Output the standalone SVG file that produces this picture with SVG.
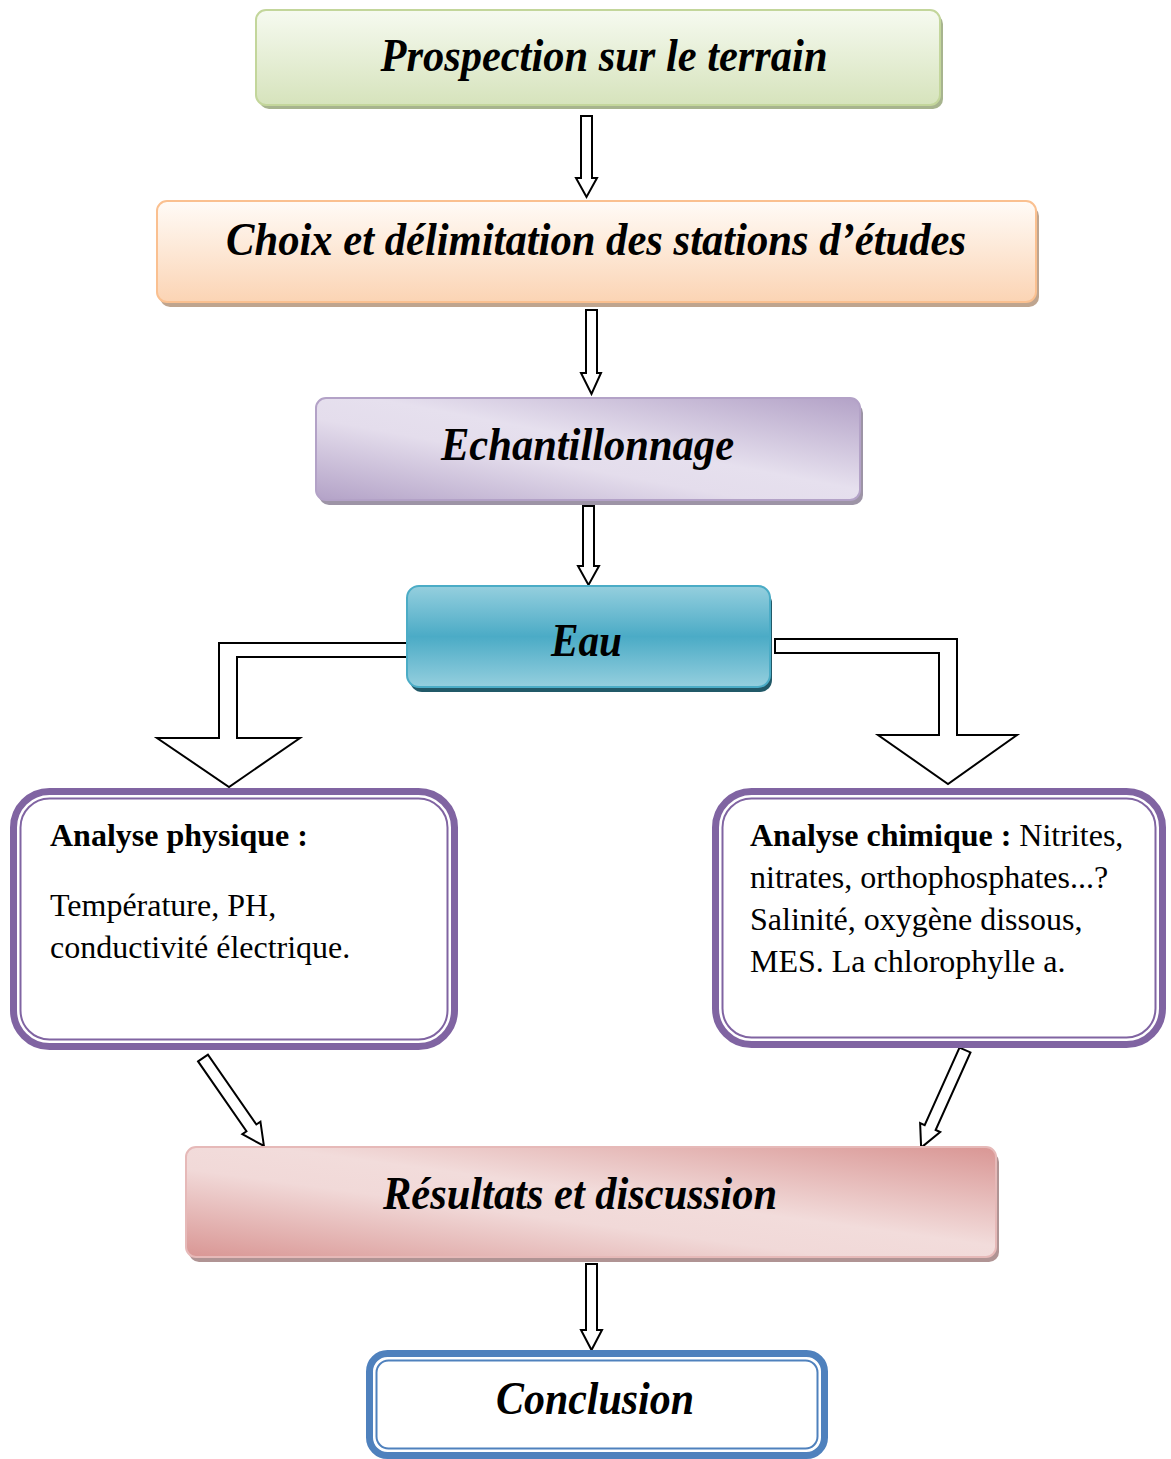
<svg xmlns="http://www.w3.org/2000/svg" width="1171" height="1459" viewBox="0 0 1171 1459">
<defs>
<linearGradient id="gGreen" x1="0" y1="0" x2="0" y2="1"><stop offset="0" stop-color="#f6faf0"/><stop offset="1" stop-color="#d6e3bc"/></linearGradient>
<linearGradient id="gOrange" x1="0" y1="0" x2="0" y2="1"><stop offset="0" stop-color="#fffbf7"/><stop offset="1" stop-color="#fbd4b4"/></linearGradient>
<linearGradient id="gPurple" x1="1" y1="0" x2="0" y2="1"><stop offset="0" stop-color="#b3a2c7"/><stop offset="0.45" stop-color="#e6e0ee"/><stop offset="0.6" stop-color="#e4ddec"/><stop offset="1" stop-color="#b3a2c7"/></linearGradient>
<linearGradient id="gTeal" x1="0" y1="0" x2="0" y2="1"><stop offset="0" stop-color="#95cfde"/><stop offset="0.5" stop-color="#4babc6"/><stop offset="1" stop-color="#95cfde"/></linearGradient>
<linearGradient id="gPink" x1="1" y1="0" x2="0" y2="1"><stop offset="0" stop-color="#d99694"/><stop offset="0.45" stop-color="#f2dcdb"/><stop offset="0.6" stop-color="#f1d9d8"/><stop offset="1" stop-color="#d99694"/></linearGradient>
</defs>
<style>
.title{font-family:"Liberation Serif","Times New Roman",serif;font-weight:bold;font-style:italic;font-size:46px;fill:#000}
.body{font-family:"Liberation Serif","Times New Roman",serif;font-size:32px;fill:#000}
.b{font-weight:bold}
.arrow{fill:#fff;stroke:#000;stroke-width:2;stroke-linejoin:miter}
.dbl-outer{fill:#fff;stroke-width:7}
.dbl-inner{fill:none;stroke-width:2}
</style>

<g id="connectors">
<path class="arrow" d="M581,116 H592 V178 H597 L586.5,197 L576,178 H581 Z"/>
<path class="arrow" d="M586,310 H597 V373 H601 L591.5,394 L581,373 H586 Z"/>
<path class="arrow" d="M583,506 H594 V566 H599 L588.5,585 L578,566 H583 Z"/>
<path class="arrow" d="M407,643 H219 V738 H157 L229,787 L300,738 H237 V657 H407 Z"/>
<path class="arrow" d="M775,639 H957 V735 H1017 L948,784 L878,735 H939 V653 H775 Z"/>
<path class="arrow" transform="translate(203,1058) rotate(-34.7)" d="M-6,0 H6 V85 H11 L0,107 L-11,85 H-6 Z"/>
<path class="arrow" transform="translate(965,1050) rotate(24.2)" d="M-6,0 H6 V85 H11 L0,107 L-11,85 H-6 Z"/>
<path class="arrow" d="M586,1264 H597 V1330 H602 L591.5,1350 L581,1330 H586 Z"/>
</g>

<g id="n-prospection">
<rect x="259" y="14" width="684" height="95" rx="10" fill="#a7b48e"/>
<rect x="256" y="10" width="684" height="95" rx="10" fill="url(#gGreen)" stroke="#c3d69b" stroke-width="2"/>
<text class="title" x="604" y="71" text-anchor="middle" textLength="447" lengthAdjust="spacingAndGlyphs">Prospection sur le terrain</text>
</g>

<g id="n-choix">
<rect x="160" y="206" width="879" height="101" rx="10" fill="#bfa58f"/>
<rect x="157" y="201" width="879" height="101" rx="10" fill="url(#gOrange)" stroke="#fac090" stroke-width="2"/>
<text class="title" x="596" y="255" text-anchor="middle" textLength="740" lengthAdjust="spacingAndGlyphs">Choix et délimitation des stations d’études</text>
</g>

<g id="n-echantillonnage">
<rect x="319" y="403" width="544" height="102" rx="10" fill="#9d94a6"/>
<rect x="316" y="398" width="544" height="102" rx="10" fill="url(#gPurple)" stroke="#b3a2c7" stroke-width="2"/>
<text class="title" x="587.5" y="460" text-anchor="middle" textLength="293" lengthAdjust="spacingAndGlyphs">Echantillonnage</text>
</g>

<g id="n-eau">
<rect x="410" y="591" width="362" height="101" rx="12" fill="#215968"/>
<rect x="407" y="586" width="363" height="101" rx="12" fill="url(#gTeal)" stroke="#4bacc6" stroke-width="2"/>
<text class="title" x="586.5" y="656" text-anchor="middle" textLength="71" lengthAdjust="spacingAndGlyphs">Eau</text>
</g>

<g id="n-physique">
<rect class="dbl-outer" x="13.5" y="791.5" width="441" height="255" rx="36" stroke="#8064a2"/>
<rect class="dbl-inner" x="20.5" y="798.5" width="427" height="241" rx="29" stroke="#8064a2"/>
<text class="body b" x="50" y="846">Analyse physique :</text>
<text class="body" x="50" y="916">Température, PH,</text>
<text class="body" x="50" y="958">conductivité électrique.</text>
</g>

<g id="n-chimique">
<rect class="dbl-outer" x="715.5" y="791.5" width="447" height="253" rx="36" stroke="#8064a2"/>
<rect class="dbl-inner" x="722.5" y="798.5" width="433" height="239" rx="29" stroke="#8064a2"/>
<text class="body" x="750" y="846"><tspan class="b">Analyse chimique :</tspan> Nitrites,</text>
<text class="body" x="750" y="888">nitrates, orthophosphates...?</text>
<text class="body" x="750" y="930">Salinité, oxygène dissous,</text>
<text class="body" x="750" y="972">MES. La chlorophylle a.</text>
</g>

<g id="n-resultats">
<rect x="189" y="1152" width="810" height="110" rx="10" fill="#b09494"/>
<rect x="186" y="1147" width="810" height="110" rx="10" fill="url(#gPink)" stroke="#e6b9b8" stroke-width="2"/>
<text class="title" x="580" y="1209" text-anchor="middle" textLength="394" lengthAdjust="spacingAndGlyphs">Résultats et discussion</text>
</g>

<g id="n-conclusion">
<rect class="dbl-outer" x="369.5" y="1353.5" width="455" height="102" rx="18" stroke="#4f81bd"/>
<rect class="dbl-inner" x="376.5" y="1360.5" width="441" height="88" rx="12" stroke="#4f81bd"/>
<text class="title" x="595" y="1414" text-anchor="middle" font-size="44" textLength="198" lengthAdjust="spacingAndGlyphs">Conclusion</text>
</g>
</svg>
